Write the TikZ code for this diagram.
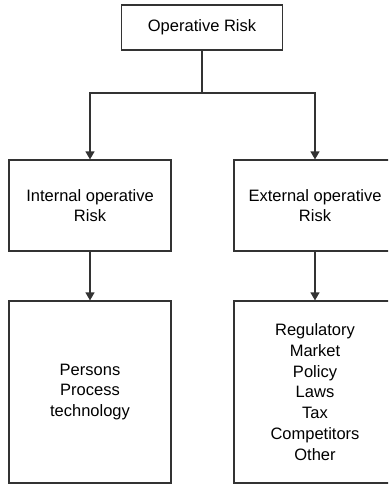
\documentclass[tikz,border=0pt]{standalone}
\usepackage{fontspec}
\setmainfont{Liberation Sans}
\usepackage{tikz}
\usetikzlibrary{arrows.meta}
\usepackage{xcolor}

\tikzset{
  box/.style={draw=black!80, line width=1.2pt, align=center, minimum width=162pt, font=\fontsize{16.5}{20.8}\selectfont},
  link/.style={line width=1.2pt, black!80},
  linkarrow/.style={link, -{Triangle[length=8pt, width=9pt]}}
}

\begin{document}
\begin{tikzpicture}[x=1pt, y=-1pt]
  \path[use as bounding box, clip] (0, 0) rectangle (388, 484);
  % Nodes
  \node[box, minimum width=161pt, minimum height=45pt] (risk) at (202, 27.5) {Operative Risk};

  \node[box, minimum height=91pt, font=\fontsize{16.5}{19.5}\selectfont] (internal) at (90, 205.5) {Internal operative\\Risk};
  \node[box, minimum height=91pt, font=\fontsize{16.5}{19.5}\selectfont] (external) at (315, 205.5) {External operative\\Risk};

  \node[box, minimum height=182pt] (persons) at (90, 392) {Persons\\Process\\technology};
  \node[box, minimum height=182pt] (factors) at (315, 392) {Regulatory\\Market\\Policy\\Laws\\Tax\\Competitors\\Other};

  \coordinate (split) at (202, 93);

  \draw[link] (risk) -- (split);
  \draw[linkarrow] (split) -| (internal);
  \draw[linkarrow] (split) -| (external);

  \draw[linkarrow] (internal) -- (persons);
  \draw[linkarrow] (external) -- (factors);
\end{tikzpicture}
\end{document}
